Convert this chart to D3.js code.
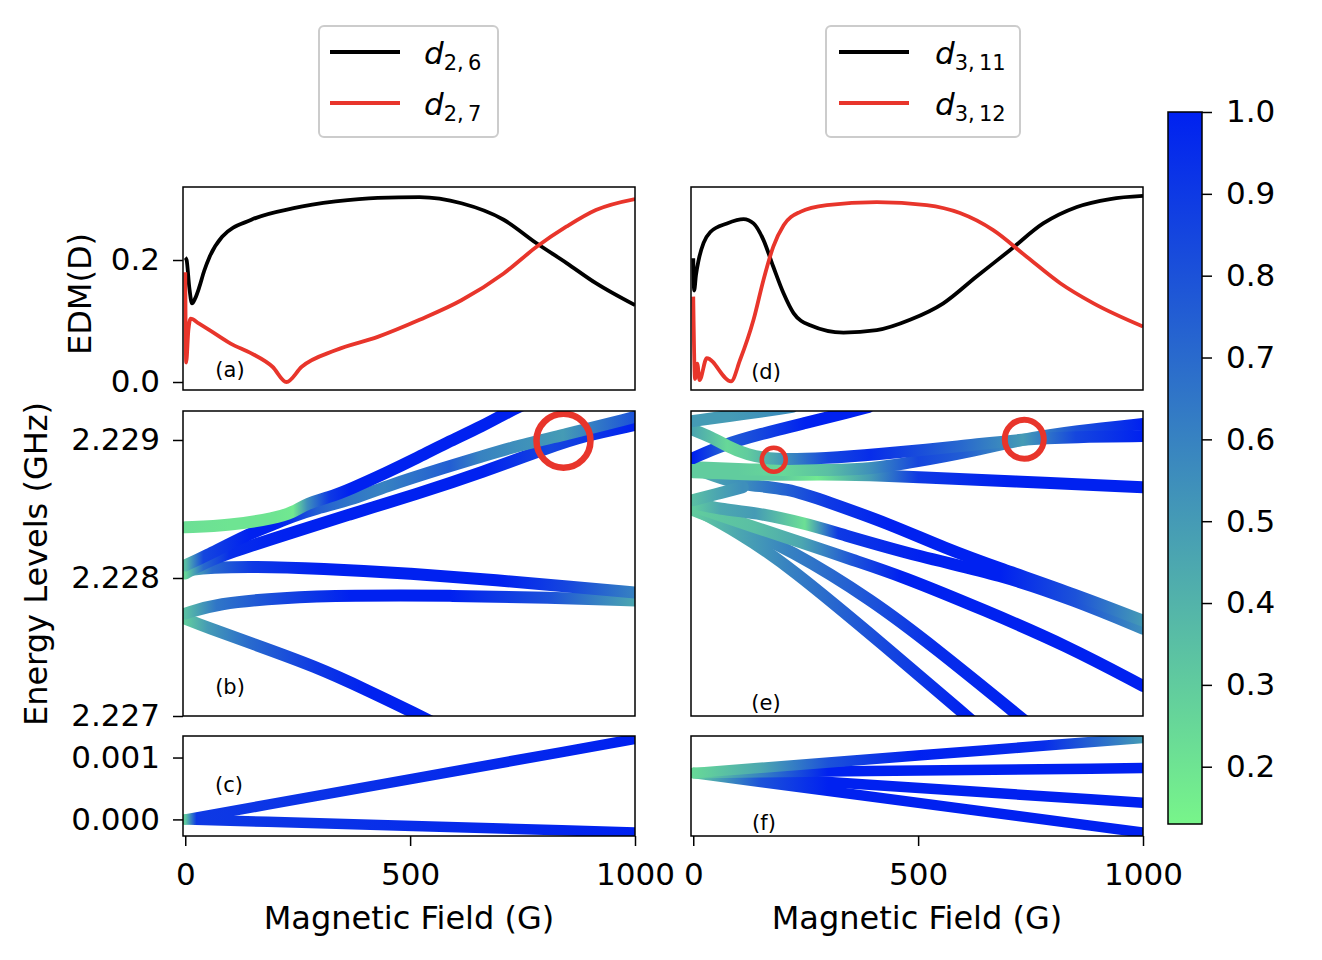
<!DOCTYPE html>
<html>
<head>
<meta charset="utf-8">
<script src="https://cdn.jsdelivr.net/npm/d3@7"></script>
<style>
  body { margin: 0; background: #fff; }
  text { font-family: "DejaVu Sans", sans-serif; fill: #000; }
</style>
</head>
<body>
<svg id="chart" width="1322" height="960"></svg>
<script>
// ---------- data ----------
const fieldTicks = [0, 500, 1000];
const edmTicks = [0.0, 0.2];
const levelTicks = [2.227, 2.228, 2.229];
const lowTicks = [0.000, 0.001];
const cbarTicks = [0.2, 0.3, 0.4, 0.5, 0.6, 0.7, 0.8, 0.9, 1.0];
const cbarRange = [0.13, 1.0];

// EDM (D) vs field (G)
const edm26 = [[0,.204],[3,.2],[9,.155],[15,.129],[22,.137],[31,.155],[42,.182],[54,.205],[82,.238],[147,.266],[241,.285],[334,.296],[428,.302],[521,.303],[614,.293],[708,.266],[782,.227],[848,.195],[913,.162],[1000,.126]];
const edm27 = [[0,.18],[2,.032],[7,.085],[12,.104],[30,.096],[54,.085],[101,.063],[147,.047],[194,.025],[225,0],[259,.025],[334,.052],[428,.074],[521,.102],[614,.134],[708,.178],[782,.222],[848,.255],[913,.282],[1000,.30]];
const edm311 = [[0,.203],[2,.15],[6,.175],[12,.2],[23,.228],[38,.246],[75,.26],[112,.267],[134,.26],[156,.233],[178,.189],[201,.145],[223,.113],[260,.093],[334,.081],[408,.085],[482,.102],[556,.129],[630,.173],[704,.216],[778,.26],[853,.287],[927,.30],[1000,.305]];
const edm312 = [[0,.14],[4,.005],[9,.03],[14,.003],[30,.039],[84,.001],[104,.036],[134,.102],[156,.167],[178,.222],[201,.257],[238,.279],[297,.29],[408,.295],[519,.29],[593,.277],[667,.249],[742,.205],[816,.162],[890,.129],[1000,.091]];

// energy levels (GHz): [field, energy, colour value]
const levB1 = [[0,2.228367,.22],[100,2.228382,.2],[200,2.228433,.2],[240,2.228476,.18],[271,2.228542,.55],[320,2.228585,.9],[367,2.228644,1],[450,2.228767,1],[515,2.228869,1],[580,2.228978,1],[662,2.229102,1],[718,2.229204,1],[770,2.229284,1]];
const levB2 = [[0,2.228091,.35],[40,2.228149,.85],[143,2.228324,1],[203,2.228396,1],[232,2.22844,.95],[292,2.228505,.75],[367,2.228564,.65],[440,2.228658,.6],[588,2.228811,.75],[655,2.228876,.6],[737,2.228956,.55],[840,2.229036,.5],[1000,2.229167,.8]];
const levB3 = [[0,2.228033,.25],[40,2.228105,.7],[100,2.228185,.95],[218,2.228309,1],[366,2.228462,1],[514,2.228607,1],[662,2.228767,1],[811,2.228949,.85],[885,2.229029,.9],[1000,2.229109,1]];
const levB4 = [[0,2.228055,.3],[60,2.228076,.7],[150,2.228084,.9],[300,2.228069,1],[500,2.228033,1],[700,2.227982,1],[850,2.227938,.85],[1000,2.227895,.6]];
const levB5 = [[0,2.227742,.35],[69,2.227815,.65],[218,2.227858,.85],[366,2.227873,1],[588,2.227873,1],[811,2.227858,.8],[1000,2.227836,.45]];
const levB6 = [[0,2.227705,.3],[50,2.22764,.5],[143,2.227531,.7],[292,2.227356,.9],[403,2.227189,1],[514,2.227015,1],[570,2.22692,1]];

const levE1 = [[0,2.229138,.5],[80,2.229175,.5],[180,2.229218,.55],[220,2.22924,.55]];
const levE2 = [[0,2.228869,1],[65,2.228964,.75],[150,2.229044,.85],[250,2.229124,1],[349,2.229204,1],[390,2.22924,1]];
const levE3 = [[0,2.228804,.3],[100,2.228789,.3],[200,2.228782,.25],[300,2.228782,.35],[395,2.228789,.55],[500,2.228847,.85],[600,2.228905,.75],[733,2.229007,.5],[850,2.229065,.8],[1000,2.229116,1]];
const levE4 = [[0,2.228767,.3],[100,2.228753,.3],[200,2.228745,.3],[275,2.228753,.18],[395,2.228745,.5],[500,2.228731,.9],[700,2.228702,1],[1000,2.228658,1]];
const levE5 = [[0,2.228796,.35],[60,2.228724,.5],[110,2.228673,.55],[211,2.228651,.75],[300,2.228549,.9],[433,2.228396,1],[560,2.228215,1],[682,2.228069,1],[850,2.22788,.8],[1000,2.227691,.5]];
const levE6 = [[0,2.228564,.35],[50,2.228607,.45],[110,2.228658,.55]];
const levE7 = [[0,2.228542,.3],[60,2.228498,.45],[137,2.228476,.5],[248,2.228396,.22],[322,2.228324,.9],[508,2.228149,1],[682,2.228025,1],[850,2.227836,.8],[1000,2.227633,.55]];
const levE8 = [[0,2.22852,.3],[137,2.228367,.35],[240,2.228258,.45],[358,2.228127,.8],[460,2.228018,1],[650,2.227764,1],[831,2.227509,1],[1000,2.227218,1]];
const levE9 = [[0,2.228505,.3],[100,2.228331,.45],[211,2.228091,.6],[433,2.227487,.85],[611,2.226993,1],[660,2.226847,1]];
const levE10 = [[0,2.228491,.3],[100,2.228367,.45],[211,2.228215,.6],[400,2.227836,.8],[537,2.227495,.95],[727,2.226993,1],[770,2.226876,1]];
const levE11 = [[0,2.229073,.45],[40,2.229022,.35],[75,2.228956,.25],[120,2.228891,.3],[178,2.228855,.45],[300,2.228869,.85],[395,2.228891,.95],[600,2.228956,.7],[733,2.229007,.5],[850,2.229022,.85],[1000,2.229029,1]];

// low-lying levels (GHz)
const lowC1 = [[0,0,.3],[25,0.0000325,.9],[1000,0.0013,1]];
const lowC2 = [[0,0,.3],[25,-0.000005,.9],[1000,-0.00021,1]];
const lowF1 = [[0,0.00075,.25],[150,0.000835,.45],[300,0.00092,.8],[500,0.001033,1],[780,0.001191,.95],[1000,0.001316,.5]];
const lowF2 = [[0,0.00075,.25],[150,0.00076,.6],[300,0.000774,1],[1000,0.00083,1]];
const lowF3 = [[0,0.00075,.3],[150,0.000678,.8],[300,0.000605,1],[1000,0.000268,1]];
const lowF4 = [[0,0.00075,.3],[150,0.000606,.8],[300,0.000461,1],[1000,-0.000213,1]];

// highlighted crossings: [panel, field, energy]
const crossings = [["b", 841, 2.228995], ["e", 179, 2.228857], ["e", 736, 2.229005]];

// ---------- setup ----------
const svg = d3.select("#chart");
const defs = svg.append("defs");
const red = "#e8352b";
const color = d3.scaleLinear().domain(cbarRange).range(["#78f58a", "#0021f0"]).interpolate(d3.interpolateRgb);

const colX = [d3.scaleLinear([-5, 1000], [183, 635]), d3.scaleLinear([-5, 1000], [691, 1143])];
const yEdm = d3.scaleLinear([-0.0131, 0.3197], [390, 187]);
const yLev = d3.scaleLinear([2.227, 2.22921], [716, 411]);
const yLow = d3.scaleLinear([-0.000268, 0.001348], [836, 736]);

function clipFor(id, x, y) {
  defs.append("clipPath").attr("id", "clip" + id)
    .append("rect")
    .attr("x", x.range()[0]).attr("y", y.range()[1])
    .attr("width", x.range()[1] - x.range()[0])
    .attr("height", y.range()[0] - y.range()[1]);
  return svg.append("g").attr("clip-path", `url(#clip${id})`);
}

function frame(x, y) {
  svg.append("rect")
    .attr("x", x.range()[0]).attr("y", y.range()[1])
    .attr("width", x.range()[1] - x.range()[0])
    .attr("height", y.range()[0] - y.range()[1])
    .attr("fill", "none").attr("stroke", "#000").attr("stroke-width", 1.5);
}

function drawEdm(id, x, series) {
  const g = clipFor(id, x, yEdm);
  const line = d3.line().x(d => x(d[0])).y(d => yEdm(d[1])).curve(d3.curveMonotoneX);
  series.forEach(([pts, c]) => {
    g.append("path").datum(pts).attr("d", line)
      .attr("fill", "none").attr("stroke", c).attr("stroke-width", 3.8)
      .attr("stroke-linejoin", "round");
  });
  frame(x, yEdm);
}

// each level is one smooth path; its colour runs along the field axis
function drawLevels(id, x, y, lines, width) {
  const g = clipFor(id, x, y);
  const line = d3.line().x(d => x(d[0])).y(d => y(d[1])).curve(d3.curveBasis);
  lines.forEach((pts, i) => {
    const x1 = x(pts[0][0]), x2 = x(pts[pts.length - 1][0]);
    const grad = defs.append("linearGradient").attr("id", `${id}g${i}`)
      .attr("gradientUnits", "userSpaceOnUse")
      .attr("x1", x1).attr("x2", x2).attr("y1", 0).attr("y2", 0);
    grad.selectAll("stop").data(pts).join("stop")
      .attr("offset", d => (x(d[0]) - x1) / (x2 - x1))
      .attr("stop-color", d => color(d[2]));
    g.append("path").datum(pts).attr("d", line)
      .attr("fill", "none").attr("stroke", `url(#${id}g${i})`)
      .attr("stroke-width", width)
      .attr("stroke-linecap", "round").attr("stroke-linejoin", "round");
  });
  return g;
}

function yAxis(y, ticks, fmt) {
  const ax = svg.append("g").attr("transform", "translate(183,0)")
    .call(d3.axisLeft(y).tickValues(ticks).tickFormat(d3.format(fmt)).tickSize(10).tickPadding(13));
  ax.select(".domain").remove();
  ax.selectAll("line").attr("stroke-width", 1.5);
  ax.selectAll("text").style("font-size", "31px").style("font-family", "DejaVu Sans");
}

function xAxis(x) {
  const ax = svg.append("g").attr("transform", "translate(0,836)")
    .call(d3.axisBottom(x).tickValues(fieldTicks).tickFormat(d3.format("d")).tickSize(10).tickPadding(17));
  ax.select(".domain").remove();
  ax.selectAll("line").attr("stroke-width", 1.5);
  ax.selectAll("text").style("font-size", "31px").style("font-family", "DejaVu Sans");
  svg.append("text").attr("x", (x.range()[0] + x.range()[1]) / 2).attr("y", 929)
    .attr("text-anchor", "middle").style("font-size", "32px").text("Magnetic Field (G)");
}

function panelLabel(txt, x, y) {
  svg.append("text").attr("x", x).attr("y", y).attr("text-anchor", "middle")
    .style("font-size", "21px").text(txt);
}

// ---------- top row: EDM ----------
drawEdm("a", colX[0], [[edm26, "#000"], [edm27, red]]);
drawEdm("d", colX[1], [[edm311, "#000"], [edm312, red]]);
yAxis(yEdm, edmTicks, ".1f");

// ---------- middle row: energy levels ----------
const gb = drawLevels("b", colX[0], yLev, [levB6, levB5, levB4, levB3, levB2, levB1], 12);
const ge = drawLevels("e", colX[1], yLev, [levE10, levE9, levE8, levE7, levE5, levE6, levE4, levE3, levE2, levE11, levE1], 12);
crossings.forEach(([p, B, E], i) => {
  const g = p === "b" ? gb : ge;
  const x = p === "b" ? colX[0] : colX[1];
  const r = [27, 12, 19.5][i], w = [6.5, 4.5, 6][i];
  g.append("circle").attr("cx", x(B)).attr("cy", yLev(E)).attr("r", r)
    .attr("fill", "none").attr("stroke", red).attr("stroke-width", w);
});
frame(colX[0], yLev);
frame(colX[1], yLev);
yAxis(yLev, levelTicks, ".3f");

// ---------- bottom row: low levels ----------
drawLevels("c", colX[0], yLow, [lowC2, lowC1], 10.5);
drawLevels("f", colX[1], yLow, [lowF4, lowF3, lowF2, lowF1], 10.5);
frame(colX[0], yLow);
frame(colX[1], yLow);
yAxis(yLow, lowTicks, ".3f");
xAxis(colX[0]);
xAxis(colX[1]);

// panel tags
panelLabel("(a)", 230, 377);
panelLabel("(b)", 230, 694);
panelLabel("(c)", 229, 792);
panelLabel("(d)", 766, 379);
panelLabel("(e)", 766, 710);
panelLabel("(f)", 764, 830);

// y labels
svg.append("text").attr("transform", "translate(91,294) rotate(-90)")
  .attr("text-anchor", "middle").style("font-size", "32px").text("EDM(D)");
svg.append("text").attr("transform", "translate(47,564) rotate(-90)")
  .attr("text-anchor", "middle").style("font-size", "32px").text("Energy Levels (GHz)");

// ---------- legends ----------
function legend(x0, w, lineX, textX, labels) {
  svg.append("rect").attr("x", x0).attr("y", 26).attr("width", w).attr("height", 111)
    .attr("rx", 5).attr("fill", "#fff").attr("stroke", "#cccccc").attr("stroke-width", 2);
  labels.forEach(([sub, c], i) => {
    const ly = 52 + i * 51;
    svg.append("line").attr("x1", lineX).attr("x2", lineX + 70).attr("y1", ly).attr("y2", ly)
      .attr("stroke", c).attr("stroke-width", 4);
    const t = svg.append("text").attr("x", textX).attr("y", ly + 12);
    t.append("tspan").style("font-size", "31px").style("font-style", "italic").text("d");
    t.append("tspan").attr("dy", 6).style("font-size", "21px").text(sub);
  });
}
legend(319, 179, 330, 424, [["2,\u20096", "#000"], ["2,\u20097", red]]);
legend(826, 194, 839, 935, [["3,\u200911", "#000"], ["3,\u200912", red]]);

// ---------- colorbar ----------
const cy = d3.scaleLinear(cbarRange, [824, 112]);
const cg = defs.append("linearGradient").attr("id", "cbar")
  .attr("x1", 0).attr("x2", 0).attr("y1", 1).attr("y2", 0);
cg.append("stop").attr("offset", 0).attr("stop-color", color(cbarRange[0]));
cg.append("stop").attr("offset", 1).attr("stop-color", color(cbarRange[1]));
svg.append("rect").attr("x", 1168).attr("y", 112).attr("width", 34).attr("height", 712)
  .attr("fill", "url(#cbar)").attr("stroke", "#000").attr("stroke-width", 1.5);
const cax = svg.append("g").attr("transform", "translate(1202,0)")
  .call(d3.axisRight(cy).tickValues(cbarTicks).tickFormat(d3.format(".1f")).tickSize(10).tickPadding(14));
cax.select(".domain").remove();
cax.selectAll("line").attr("stroke-width", 1.5);
cax.selectAll("text").style("font-size", "31px").style("font-family", "DejaVu Sans");
</script>
</body>
</html>
